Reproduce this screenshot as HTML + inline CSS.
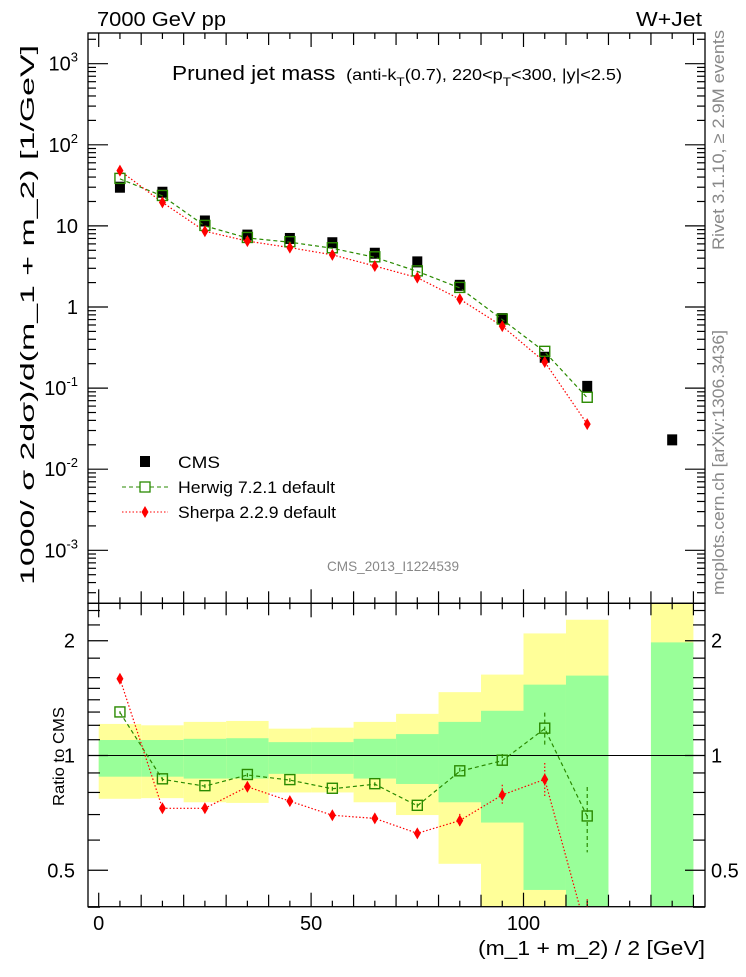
<!DOCTYPE html>
<html><head><meta charset="utf-8"><style>
body{margin:0;background:#fff}
svg text{font-family:"Liberation Sans",sans-serif}
</style></head><body>
<svg id="c" width="746" height="972" viewBox="0 0 746 972" xmlns="http://www.w3.org/2000/svg">
<g id="bands"></g>
<g id="axes"></g>
<g id="series"></g>
<text x="97" y="26" font-size="20" textLength="129" lengthAdjust="spacingAndGlyphs">7000 GeV pp</text>
<text x="636" y="26" font-size="20" textLength="66" lengthAdjust="spacingAndGlyphs">W+Jet</text>
<text x="172" y="80" font-size="20" textLength="450" lengthAdjust="spacingAndGlyphs">Pruned jet mass <tspan font-size="16" dx="4">(anti-k</tspan><tspan font-size="12" dy="6">T</tspan><tspan font-size="16" dy="-6">(0.7), 220&lt;p</tspan><tspan font-size="12" dy="6">T</tspan><tspan font-size="16" dy="-6">&lt;300, |y|&lt;2.5)</tspan></text>
<text x="327" y="571" font-size="14" fill="#888" textLength="132" lengthAdjust="spacingAndGlyphs">CMS_2013_I1224539</text>
<text transform="translate(724,250) rotate(-90)" font-size="17" fill="#888" textLength="220" lengthAdjust="spacingAndGlyphs">Rivet 3.1.10, ≥ 2.9M events</text>
<text transform="translate(724,595) rotate(-90)" font-size="17" fill="#888" textLength="265" lengthAdjust="spacingAndGlyphs">mcplots.cern.ch [arXiv:1306.3436]</text>
<text transform="translate(34,585) rotate(-90)" font-size="19" textLength="540" lengthAdjust="spacingAndGlyphs">1000/ σ 2dσ)/d(m_1 + m_2) [1/GeV]</text>
<text transform="translate(64,806) rotate(-90)" font-size="16" textLength="99" lengthAdjust="spacingAndGlyphs">Ratio to CMS</text>
<text x="478" y="955" font-size="20" textLength="227" lengthAdjust="spacingAndGlyphs">(m_1 + m_2) / 2 [GeV]</text>
<g>
<rect x="140" y="456" width="10" height="11" fill="#000"/>
<text x="178" y="468" font-size="17" textLength="42" lengthAdjust="spacingAndGlyphs">CMS</text>
<line x1="122" y1="487" x2="168" y2="487" stroke="#2a8a00" stroke-dasharray="4,3"/>
<rect x="140" y="482" width="10" height="10" fill="#fff" stroke="#2a8a00" stroke-width="1.3"/>
<text x="178" y="493" font-size="17" textLength="157" lengthAdjust="spacingAndGlyphs">Herwig 7.2.1 default</text>
<line x1="122" y1="512" x2="168" y2="512" stroke="#f00" stroke-dasharray="1.5,2"/>
<path d="M145 506 L148.5 512 L145 518 L141.5 512Z" fill="#f00"/>
<text x="178" y="518" font-size="17" textLength="158" lengthAdjust="spacingAndGlyphs">Sherpa 2.2.9 default</text>
</g>
</svg>
<script>
const binEdges=[0,10,20,30,40,50,60,70,80,90,100,110,120,130,140];
const xCenters=[5,15,25,35,45,55,65,75,85,95,105,115];
const cmsX=[5,15,25,35,45,55,65,75,85,95,105,115,135];
const cmsVals=[30,26,11.5,7.7,7,6.2,4.6,3.6,1.85,0.72,0.24,0.105,0.023];
const herwigVals=[38,23.4,10,7.1,6.3,5.3,4.1,2.75,1.72,0.7,0.28,0.076];
const sherpaVals=[48,19.5,8.6,6.5,5.4,4.4,3.2,2.3,1.25,0.58,0.21,0.036];
const herwigRatio=[1.297,0.866,0.831,0.889,0.862,0.818,0.841,0.738,0.909,0.969,1.176,0.692];
const herwigRatioErr=[0.01,0.01,0.01,0.01,0.01,0.01,0.01,0.01,0.02,0.04,0.12,0.135];
const sherpaRatio=[1.59,0.727,0.727,0.828,0.759,0.697,0.684,0.625,0.675,0.788,0.866,0.34];
const sherpaRatioErr=[0.02,0.01,0.01,0.01,0.01,0.01,0.01,0.01,0.028,0.05,0.09,0.08];
const bandGreenHi=[1.098,1.098,1.106,1.11,1.084,1.084,1.106,1.138,1.225,1.31,1.534,1.62,null,1.98];
const bandGreenLo=[0.88,0.88,0.87,0.87,0.895,0.895,0.87,0.842,0.754,0.667,0.444,0.3,null,0.3];
const bandYellowHi=[1.21,1.2,1.225,1.232,1.176,1.183,1.225,1.286,1.466,1.63,2.09,2.27,null,3];
const bandYellowLo=[0.77,0.773,0.754,0.751,0.8,0.8,0.754,0.698,0.52,0.3,0.3,0.3,null,0.3];
const mainTickLabels=["10^-3","10^-2","10^-1","1","10","10^2","10^3"];
const ratioTickLabels=["0.5","1","2"];
const xTickLabels=["0","50","100"];

const NS="http://www.w3.org/2000/svg";
const L=88,R=705,T=33,MB=603.3,RB=906.7;
const X=v=>98.7+(v)*4.248;
const Ym=v=>307-Math.log10(v)*81.1;
const Yr=v=>755.5-Math.log10(v)*381.3;
function mk(tag,attrs,parent){const e=document.createElementNS(NS,tag);for(const k in attrs)e.setAttribute(k,attrs[k]);parent.appendChild(e);return e;}
const axes=document.getElementById('axes'),bands=document.getElementById('bands'),ser=document.getElementById('series');

for(let i=0;i<binEdges.length-1;i++){
 if(bandYellowHi[i]==null)continue;
 const x0=X(binEdges[i]),x1=X(binEdges[i+1]);
 const yt=Math.max(MB,Yr(bandYellowHi[i])),yb=Math.min(RB,Yr(bandYellowLo[i]));
 const y=mk('rect',{x:x0,y:yt,width:x1-x0,height:yb-yt,fill:'#ffff99'},bands);
 
 
 const gt=Math.max(MB,Yr(bandGreenHi[i])),gb=Math.min(RB,Yr(bandGreenLo[i]));
 const g=mk('rect',{x:x0,y:gt,width:x1-x0,height:gb-gt,fill:'#99ff99'},bands);
 
 
}
mk('rect',{x:L,y:T,width:R-L,height:MB-T,fill:'none',stroke:'#000','stroke-width':1.3},axes);
mk('rect',{x:L,y:MB,width:R-L,height:RB-MB,fill:'none',stroke:'#000','stroke-width':1.3},axes);
mk('line',{x1:L,x2:R,y1:Yr(1),y2:Yr(1),stroke:'#000','stroke-width':1},axes);
function tick(x1,y1,x2,y2){mk('line',{x1,y1,x2,y2,stroke:'#000','stroke-width':1.2},axes);}
for(let v=0;v<=140;v+=5){
 const x=X(v),len=v%50==0?14:(v%10==0?12:6);
 [[T,1],[MB,-1],[MB,1],[RB,-1]].forEach(([y,d])=>tick(x,y,x,y+d*len));
}
xTickLabels.forEach(s=>{const t=mk('text',{x:X(+s),y:930,'font-size':20,'text-anchor':'middle'},axes);t.textContent=s;
 
 });
for(let d=-4;d<=3;d++){for(let m=1;m<10;m++){const v=m*Math.pow(10,d),y=Ym(v);if(y<T||y>MB)continue;
 const len=m==1?20:8;tick(L,y,L+len,y);tick(R,y,R-len,y);}}
mainTickLabels.forEach((s,i)=>{const e=i-3,y=Ym(Math.pow(10,e));const t=mk('text',{x:78,y:y+7,'font-size':20,'text-anchor':'end'},axes);
 if(e==0||e==1)t.textContent=e==0?'1':'10';else{t.textContent='10';const sp=mk('tspan',{'font-size':13,dy:-9},t);sp.textContent=String(e);}
 
 });
[0.4,0.6,0.7,0.8,0.9,1.1,1.2,1.3,1.4,1.5,1.6,1.8,2.2,2.4].forEach(v=>{const y=Yr(v);tick(L,y,L+12,y);tick(R,y,R-12,y);});
ratioTickLabels.forEach(s=>{const y=Yr(+s);tick(L,y,L+20,y);tick(R,y,R-20,y);
 const t=mk('text',{x:75,y:y+7,'font-size':20,'text-anchor':'end'},axes);t.textContent=s;
 
 
 const t2=mk('text',{x:711,y:y+7,'font-size':20},axes);t2.textContent=s;
 
 });

const defs=mk('defs',{},ser);
const cp=mk('clipPath',{id:'rc'},defs);mk('rect',{x:L,y:MB,width:R-L,height:RB-MB},cp);
const cpm=mk('clipPath',{id:'mc'},defs);mk('rect',{x:L,y:T,width:R-L,height:MB-T},cpm);
function line(xs,ys,color,dash,clip,name){
 const p=mk('polyline',{points:xs.map((x,i)=>x+','+ys[i]).join(' '),fill:'none',stroke:color,'stroke-width':1.2,'stroke-dasharray':dash,'clip-path':'url(#'+clip+')'},ser);
 
 
}
function sq(x,y,color,filled,name){const r=mk('rect',{x:x-5,y:y-5.5,width:10,height:filled?11:10,fill:filled?color:'none',stroke:color,'stroke-width':filled?0:1.4},ser);
 
 }
function dia(x,y,name){const p=mk('path',{d:`M${x} ${y-6} L${x+3.5} ${y} L${x} ${y+6} L${x-3.5} ${y}Z`,fill:'#f00'},ser);
 
 }
function err(x,y1,y2,color,dash){mk('line',{x1:x,x2:x,y1,y2,stroke:color,'stroke-width':1.2,'stroke-dasharray':dash,'clip-path':'url(#rc)'},ser);}
cmsX.forEach((v,i)=>sq(X(v),Ym(cmsVals[i]),'#000',true,'cms-point'));
line(xCenters.map(X),herwigVals.map(Ym),'#2a8a00','4,3','mc','herwig-line');
line(xCenters.map(X),sherpaVals.map(Ym),'#f00','1.5,2','mc','sherpa-line');
xCenters.forEach((v,i)=>sq(X(v),Ym(herwigVals[i]),'#2a8a00',false,'herwig-point'));
xCenters.forEach((v,i)=>dia(X(v),Ym(sherpaVals[i]),'sherpa-point'));
line(xCenters.map(X),herwigRatio.map(Yr),'#2a8a00','4,3','rc','herwig-ratio-line');
line(xCenters.map(X),sherpaRatio.map(Yr),'#f00','1.5,2','rc','sherpa-ratio-line');
xCenters.forEach((v,i)=>{err(X(v),Yr(herwigRatio[i]+herwigRatioErr[i]),Yr(herwigRatio[i]-herwigRatioErr[i]),'#2a8a00','4,3');
 if(Yr(herwigRatio[i])<RB)sq(X(v),Yr(herwigRatio[i]),'#2a8a00',false,'herwig-ratio-point');});
xCenters.forEach((v,i)=>{err(X(v),Yr(sherpaRatio[i]+sherpaRatioErr[i]),Yr(sherpaRatio[i]-sherpaRatioErr[i]),'#f00','1.5,2');
 if(Yr(sherpaRatio[i])<RB)dia(X(v),Yr(sherpaRatio[i]),'sherpa-ratio-point');});
</script>
</body></html>
